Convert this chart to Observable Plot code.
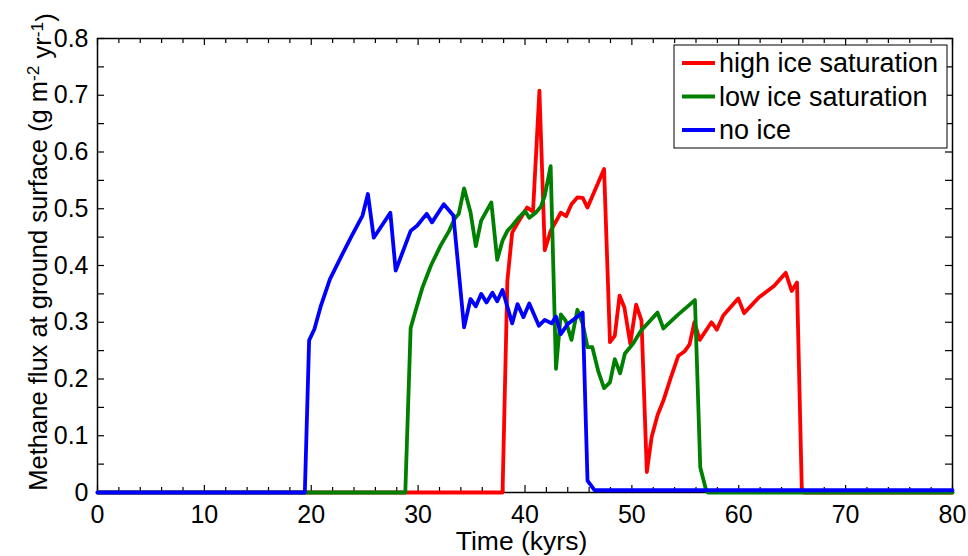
<!DOCTYPE html>
<html><head><meta charset="utf-8">
<script src="https://cdn.jsdelivr.net/npm/d3@7"></script>
<script src="https://cdn.jsdelivr.net/npm/@observablehq/plot@0.6"></script>
<style>body{margin:0;background:#fff;}</style>
</head><body><div id="chart"></div>
<script>
const seriesNames = ["high ice saturation", "low ice saturation", "no ice"];
const seriesColors = ["#ff0000", "#008000", "#0000ff"];

const highTime = [0,37.9,38.35,38.8,39.45,40.2,40.75,41.35,41.85,42.4,43.35,43.85,44.35,44.9,45.4,45.85,47.4,47.95,48.4,48.85,49.3,49.85,50.4,50.9,51.4,51.85,52.4,52.95,53.65,54.35,54.95,55.4,55.85,56.35,57.45,57.95,58.55,59.95,60.5,61.9,63.3,64.4,64.95,65.45,65.9,66.1,80];
const highFlux = [0,0,0.373,0.458,0.479,0.502,0.495,0.708,0.427,0.461,0.493,0.487,0.508,0.52,0.519,0.502,0.57,0.265,0.276,0.347,0.326,0.262,0.331,0.303,0.036,0.098,0.136,0.162,0.203,0.241,0.249,0.261,0.30,0.269,0.30,0.287,0.312,0.342,0.316,0.344,0.364,0.387,0.355,0.37,0.005,0,0];

const lowTime = [0,28.8,29.3,29.8,30.4,31.2,32.1,32.9,33.4,33.8,34.3,34.9,35.4,35.9,36.85,37.4,37.9,38.35,38.8,39.45,40.0,40.4,41.0,41.5,41.85,42.4,42.9,43.35,43.8,44.35,44.9,45.4,45.85,46.3,46.85,47.4,47.95,48.4,48.9,49.35,50.1,50.85,52.4,52.95,54.3,55.9,56.4,56.95,57.1,80];
const lowFlux = [0,0,0.29,0.323,0.361,0.40,0.435,0.461,0.482,0.491,0.536,0.494,0.434,0.479,0.511,0.41,0.444,0.461,0.47,0.485,0.496,0.484,0.493,0.504,0.523,0.575,0.218,0.314,0.303,0.269,0.322,0.297,0.256,0.256,0.214,0.184,0.194,0.235,0.21,0.245,0.262,0.285,0.317,0.289,0.313,0.339,0.044,0.004,0,0];

const noIceTime = [0,19.4,19.8,20.3,20.9,21.75,22.75,23.75,24.8,25.3,25.85,27.4,27.9,29.3,29.9,30.8,31.3,32.4,33.3,34.3,34.9,35.4,35.9,36.4,36.95,37.4,37.9,38.8,39.3,39.85,40.4,41.3,41.85,42.5,42.9,43.35,44.0,45.4,45.85,46.5,80];
const noIceFlux = [0,0,0.268,0.288,0.329,0.376,0.414,0.451,0.488,0.526,0.449,0.493,0.391,0.461,0.470,0.491,0.476,0.508,0.488,0.291,0.341,0.328,0.35,0.335,0.352,0.337,0.357,0.298,0.332,0.309,0.333,0.294,0.304,0.298,0.31,0.279,0.297,0.317,0.021,0.004,0.004];

const xTickValues = [0,10,20,30,40,50,60,70,80];
const xMinorTickValues = [2,4,6,8,12,14,16,18,22,24,26,28,32,34,36,38,42,44,46,48,52,54,56,58,62,64,66,68,72,74,76,78];
const yTickValues = [0,0.1,0.2,0.3,0.4,0.5,0.6,0.7,0.8];
const yMinorTickValues = [0.05,0.15,0.25,0.35,0.45,0.55,0.65,0.75];

const rows = [];
[[highTime, highFlux], [lowTime, lowFlux], [noIceTime, noIceFlux]].forEach(([t, f], i) => {
  t.forEach((v, j) => rows.push({series: seriesNames[i], time: v, flux: f[j]}));
});

const W = 968, H = 556, mL = 97, mR = 16, mT = 38, mB = 64;
const pxX = (W - mL - mR) / 80, pxY = (H - mT - mB) / 0.8;
const tMaj = 7, tMin = 5, tY = 7;
const font = "'Liberation Sans', Arial, Helvetica, sans-serif";
const fs = 25, fsLabel = 26.5, fsLegend = 27;
const yAll = yTickValues.concat(yMinorTickValues);

const plot = Plot.plot({
  width: W, height: H,
  marginLeft: mL, marginRight: mR, marginTop: mT, marginBottom: mB,
  style: {fontFamily: font, fontSize: fs + "px", background: "white", color: "black"},
  x: {domain: [0, 80], label: null},
  y: {domain: [0, 0.8], label: null},
  color: {domain: seriesNames, range: seriesColors},
  marks: [
    Plot.frame({stroke: "black", strokeWidth: 1.5}),
    Plot.ruleX(xTickValues, {x: d => d, y1: () => 0, y2: () => tMaj / pxY, stroke: "black", strokeWidth: 1.2}),
    Plot.ruleX(xTickValues, {x: d => d, y1: () => 0.8, y2: () => 0.8 - tMaj / pxY, stroke: "black", strokeWidth: 1.2}),
    Plot.ruleX(xMinorTickValues, {x: d => d, y1: () => 0, y2: () => tMin / pxY, stroke: "black", strokeWidth: 1.2}),
    Plot.ruleX(xMinorTickValues, {x: d => d, y1: () => 0.8, y2: () => 0.8 - tMin / pxY, stroke: "black", strokeWidth: 1.2}),
    Plot.ruleY(yAll, {y: d => d, x1: () => 0, x2: () => tY / pxX, stroke: "black", strokeWidth: 1.2}),
    Plot.ruleY(yAll, {y: d => d, x1: () => 80, x2: () => 80 - tY / pxX, stroke: "black", strokeWidth: 1.2}),
    Plot.line(rows, {x: "time", y: "flux", z: "series", stroke: "series", strokeWidth: 3.8, strokeLinejoin: "round"}),
    Plot.axisX(xTickValues, {anchor: "bottom", tickSize: 0, tickPadding: 13, fontSize: fs, tickFormat: d => String(d)}),
    Plot.axisY(yTickValues, {anchor: "left", tickSize: 0, tickPadding: 9, fontSize: fs, tickFormat: d => d === 0 ? "0" : d.toFixed(1)})
  ]
});

const svg = d3.select(plot);
svg.append("text")
  .attr("x", (mL + W - mR) / 2 - 3).attr("y", 550)
  .attr("text-anchor", "middle").attr("font-size", fsLabel).attr("font-family", font).attr("fill", "black")
  .text("Time (kyrs)");

const yl = svg.append("text")
  .attr("transform", `translate(47,252) rotate(-90)`)
  .attr("text-anchor", "middle").attr("font-size", 25.5).attr("font-family", font).attr("fill", "black");
yl.append("tspan").text("Methane flux at ground surface (g m");
yl.append("tspan").attr("dy", "-0.45em").attr("font-size", "0.68em").text("-2");
yl.append("tspan").attr("dy", "0.45em").text(" yr");
yl.append("tspan").attr("dy", "-0.45em").attr("font-size", "0.68em").text("-1");
yl.append("tspan").attr("dy", "0.45em").text(")");

const lg = svg.append("g");
lg.append("rect").attr("x", 674).attr("y", 45).attr("width", 273).attr("height", 103)
  .attr("fill", "white").attr("stroke", "black").attr("stroke-width", 1);
seriesNames.forEach((name, i) => {
  const cy = 63 + i * 33.5;
  lg.append("line").attr("x1", 682).attr("x2", 715).attr("y1", cy).attr("y2", cy)
    .attr("stroke", seriesColors[i]).attr("stroke-width", 3.8);
  lg.append("text").attr("x", 719).attr("y", cy).attr("dy", "0.35em")
    .attr("text-anchor", "start")
    .attr("font-size", fsLegend).attr("font-family", font).attr("fill", "black").text(name);
});

document.getElementById("chart").appendChild(plot);
</script>
</body></html>
